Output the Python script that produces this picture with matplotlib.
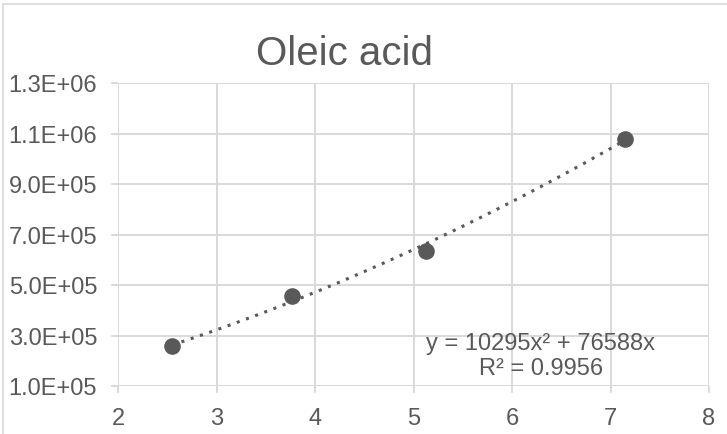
import numpy as np
import matplotlib.pyplot as plt
from matplotlib.patches import Rectangle

plt.rcParams['font.family'] = ['Liberation Sans', 'DejaVu Sans']

# data
conc = [2.55, 3.77, 5.13, 7.15]
area = [2.58e5, 4.56e5, 6.35e5, 1.08e6]
coef_a = 10295
coef_b = 76588
eq_text = "y = 10295x² + 76588x\nR² = 0.9956"
x_ticks = [2, 3, 4, 5, 6, 7, 8]
y_ticks = [1.0e5, 3.0e5, 5.0e5, 7.0e5, 9.0e5, 1.1e6, 1.3e6]

grey = '#595959'
grid = '#d9d9d9'

fig = plt.figure(figsize=(7.27, 4.35), dpi=100)
ax = fig.add_axes([118/727, 1 - 387/435, (709 - 118)/727, (387 - 84)/435])

# chart border, runs off the right and bottom of the image
fig.patches.append(Rectangle((3/727, -0.05), 1.2, 1 - 5/435 + 0.05,
                             transform=fig.transFigure, fill=False,
                             edgecolor=grid, lw=1.2))

ax.set_xlim(2, 8)
ax.set_ylim(1.0e5, 1.3e6)
ax.set_xticks(x_ticks)
ax.set_yticks(y_ticks)
ax.set_yticklabels([f"{v:.1E}" for v in y_ticks])
ax.grid(True, color=grid, lw=1.4)
ax.set_axisbelow(True)
for s in ax.spines.values():
    s.set_visible(False)
ax.tick_params(axis='both', colors=grid, labelcolor=grey, labelsize=17,
               length=5, width=1.4, pad=10)

# trendline
xs = np.linspace(min(conc), max(conc), 200)
ax.plot(xs, coef_a * xs**2 + coef_b * xs, ls=(0, (1, 2.2)), color=grey,
        lw=2.2, zorder=3)
ax.scatter(conc, area, s=120, color=grey, zorder=4, clip_on=False)

ax.text(6.29, 2.2e5, eq_text, ha='center', va='center', fontsize=17,
        color=grey, linespacing=1.2)

fig.text(345/727, 1 - 54/435, "Oleic acid", ha='center', va='center',
         fontsize=29, color=grey)

fig.savefig("out.png", dpi=100)
